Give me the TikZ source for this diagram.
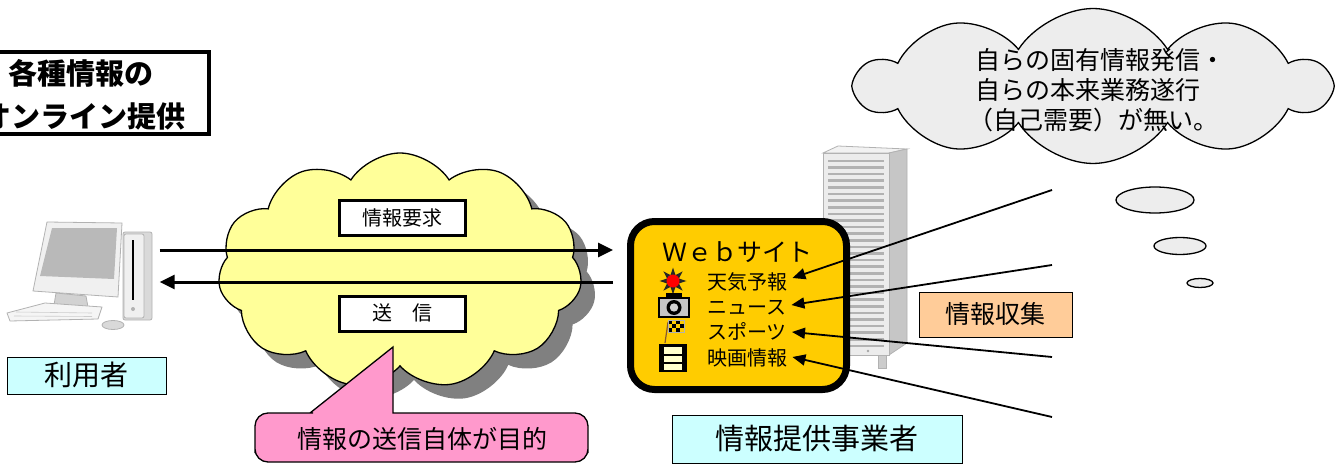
\documentclass[tikz,border=0pt]{standalone}
\usepackage{fontspec}
\newfontfamily\jp{Noto Sans CJK JP}
\usetikzlibrary{shapes.symbols,shapes.geometric,arrows.meta,calc}

\definecolor{netyellow}{HTML}{FFFF99}
\definecolor{netshadow}{HTML}{808080}
\definecolor{calloutpink}{HTML}{FF99CC}
\definecolor{labelcyan}{HTML}{CCFFFF}
\definecolor{sitegold}{HTML}{FFCC00}
\definecolor{collectorange}{HTML}{FFCC99}
\definecolor{thinkgray}{HTML}{EDEDED}
\definecolor{filmcream}{HTML}{FFFFCC}

\begin{document}
\begin{tikzpicture}[x=1pt,y=-1pt,
  % Japanese text: the box is centred on the ideographs of the given size
  jp/.code={\pgfmathsetmacro\jph{0.80*#1}\pgfmathsetmacro\jpd{0.06*#1}%
    \tikzset{font=\jp\fontsize{#1}{#1}\selectfont, text height=\jph pt, text depth=\jpd pt, inner sep=0pt}},
  jpbold/.code={\pgfmathsetmacro\jph{0.80*#1}\pgfmathsetmacro\jpd{0.06*#1}%
    \tikzset{font=\jp\bfseries\fontsize{#1}{#1}\selectfont, text height=\jph pt, text depth=\jpd pt, inner sep=0pt}},
  labelbox/.style={draw=black, line width=1pt, inner sep=0pt},
  whitebox/.style={draw=black, line width=3pt, fill=white, inner sep=0pt},
  netcloud/.style={cloud, cloud puffs=11, cloud puff arc=115, cloud ignores aspect,
                   minimum width=364, minimum height=236, inner sep=0pt},
  thinkcloud/.style={cloud, cloud puffs=10, cloud puff arc=115, cloud ignores aspect,
                   minimum width=472, minimum height=155, inner sep=0pt,
                   draw=black, line width=1.3pt, fill=thinkgray},
  bubble/.style={ellipse, draw=black, line width=1.3pt, fill=thinkgray, inner sep=0pt},
  bigarrow/.style={line width=3pt, -{Triangle[length=15pt,width=14pt]}},
  feed/.style={line width=1.8pt, -{Triangle[length=13pt,width=11pt]}},
  pcpart/.style={draw=gray!60, line width=0.8pt, line join=round},
]
\useasboundingbox (0,0) rectangle (1340,465);
\clip (0,0) rectangle (1340,465);
\fill[white] (0,0) rectangle (1340,465);

% ---- title box (top left) ----
\node[draw=black, line width=4pt, minimum width=229, minimum height=82, inner sep=0pt] (intro) at (94.5,93) {};
\node[jpbold=29] (introA) at (81,74) {各種情報の};
\node[jpbold=29] (introB) at (84,117) {オンライン提供};

% ---- user computer ----
\node[minimum width=152, minimum height=110, inner sep=0pt] (pc) at (81,275) {};
% monitor
\filldraw[pcpart, fill=gray!12] (47,222) -- (122,223) -- (118,297) -- (33,291) -- cycle;
\fill[gray!55] (52,228) -- (117,228) -- (114,279) -- (40,276) -- cycle;
\filldraw[pcpart, fill=gray!35] (56,293) -- (86,296) -- (88,307) -- (54,305) -- cycle;
% keyboard
\filldraw[pcpart, fill=gray!8] (7,313) -- (45,303) -- (102,307) -- (98,319) -- (10,321) -- cycle;
\draw[gray!40, line width=0.6pt] (16,312) -- (92,313);
\draw[gray!40, line width=0.6pt] (14,316) -- (92,316.5);
% mouse
\filldraw[pcpart, fill=gray!30] (113,325) ellipse [x radius=11, y radius=4.5];
% tower
\filldraw[pcpart, fill=gray!30, rounded corners=2pt] (123,232) rectangle (152,320);
\filldraw[pcpart, fill=gray!12, rounded corners=2pt] (124,234) rectangle (144,318);
\draw[black, line width=1.5pt] (133,240) -- (133,300);
\fill[gray!60] (133,309) circle (2);

% ---- network cloud with shadow ----
\node[netcloud, fill=netshadow] (netshadow) at (414,285) {};
\node[netcloud, fill=netyellow, draw=black, line width=1.3pt] (net) at (400,271) {};

\node[whitebox, minimum width=126, minimum height=35] (req) at (402.5,218) {};
\node[jp=20] (reqtext) at (req.center) {情報要求};
\node[whitebox, minimum width=126, minimum height=35] (send) at (402.5,313.5) {};
\node[jp=20] (sendtext) at (send.center) {送　信};

% ---- server tower ----
\filldraw[draw=gray!60, line width=0.8pt, fill=gray!10] (823,153) -- (838,146) -- (907,149) -- (889,153) -- cycle;
\filldraw[draw=gray!60, line width=0.8pt, fill=gray!45] (889,153) -- (907,149) -- (907,343) -- (889,355) -- cycle;
\filldraw[draw=gray!60, line width=0.8pt, fill=gray!15] (823,153) rectangle (889,355);
\foreach \k in {0,...,28} {
  \draw[gray!60, line width=2.6pt] (828,{161+\k*6.6}) -- (884,{161+\k*6.6});
}
\filldraw[draw=gray!60, fill=gray!40] (878,355) rectangle (886,368);
\fill[gray!70] (868,351) circle (1.3);

% ---- website panel ----
\node[draw=black, line width=7pt, fill=sitegold, rounded corners=24pt,
      minimum width=216, minimum height=168, inner sep=0pt] (web) at (738.5,305.5) {};
\node[jp=25] (webtitle) at (737,252) {Ｗｅｂサイト};
\node[jp=20, anchor=west] (w1) at (707,282) {天気予報};
\node[jp=20, anchor=west] (w2) at (707,307) {ニュース};
\node[jp=20, anchor=west] (w3) at (707,332) {スポーツ};
\node[jp=20, anchor=west] (w4) at (707,358) {映画情報};

% icons
\node[star, star points=8, star point ratio=2.1, minimum size=27, fill=black!85, inner sep=0pt] (sun) at (673,281) {};
\fill[red] (sun.center) circle (6.5);
\filldraw[line width=1.3pt, fill=gray!45] (659,298) rectangle (689,317);
\fill[black] (666,293) rectangle (682,298);
\fill[black] (674,307.5) circle (7.5);
\fill[gray!35] (674,307.5) circle (4.2);
\draw[brown!70!black, line width=1.2pt] (665,343) -- (668,322);
\foreach \i/\j in {0/0,2/0,1/1,3/1,0/2,2/2} {
  \fill[black] ({668+\i*4},{320+\j*4}) rectangle +(4,4);
}
\draw[gray!60, line width=0.5pt] (668,320) rectangle (684,332);
\fill[black] (659,344) rectangle (687,372);
\fill[filmcream] (664,347) rectangle (682,353.5);
\fill[filmcream] (664,355.5) rectangle (682,362);
\fill[filmcream] (664,364) rectangle (682,369.5);

% ---- request / response arrows ----
\draw[bigarrow] ($(pc.east)+(2.5,-25)$) -- ($(web.west)+(-14,-55.5)$);
\draw[bigarrow] ($(web.west)+(-14,-23.5)$) -- ($(pc.east)+(2.5,7)$);

% ---- callout ----
\draw[line width=1.3pt, fill=calloutpink, line join=miter]
  (255,440) [rounded corners=13pt] |- (300,413) [sharp corners] -- (310,413) -- (393,347)
  -- (393,413) -- (405,413) [rounded corners=13pt] -| (588,440) |- (255,462) -- cycle;
\node[jp=25] (goal) at (422,439) {情報の送信自体が目的};

% ---- information collection ----
\coordinate (src1) at (1052,190);
\coordinate (src2) at (1052,265);
\coordinate (src3) at (1052,357);
\coordinate (src4) at (1052,417);
\draw[feed] (src1) -- ($(w1.east)+(5,-4)$);
\draw[feed] (src2) -- ($(w2.east)+(5,-2)$);
\draw[feed] (src3) -- ($(w3.east)+(5,0)$);
\draw[feed] (src4) -- ($(w4.east)+(5,-1)$);

\node[labelbox, fill=collectorange, minimum width=153, minimum height=45] (collect) at (995.5,314.5) {};
\node[jp=25] (collecttext) at (collect.center) {情報収集};

% ---- labels ----
\node[labelbox, fill=labelcyan, minimum width=159, minimum height=37] (user) at (86.5,375.5) {};
\node[jp=28] (usertext) at (user.center) {利用者};
\node[labelbox, fill=labelcyan, minimum width=290, minimum height=48] (provider) at (817,439) {};
\node[jp=29] (providertext) at (provider.center) {情報提供事業者};

% ---- thought bubble ----
\node[thinkcloud] (think) at (1093,86) {};
\node[jp=25, anchor=west] (t1) at (975,60) {自らの固有情報発信・};
\node[jp=25, anchor=west] (t2) at (975,90) {自らの本来業務遂行};
\node[jp=25, anchor=west] (t3) at (968,120) {（自己需要）が無い。};
\node[bubble, minimum width=78, minimum height=26] (b1) at (1155,200) {};
\node[bubble, minimum width=52, minimum height=17] (b2) at (1180,246) {};
\node[bubble, minimum width=26, minimum height=9] (b3) at (1200,283) {};
\end{tikzpicture}
\end{document}
